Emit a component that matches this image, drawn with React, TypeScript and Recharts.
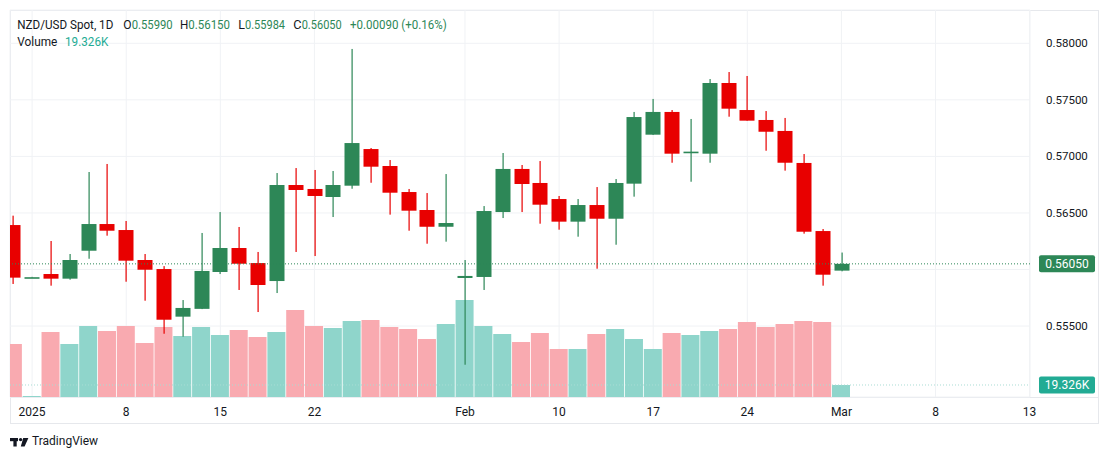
import React from "react";
import {
    ComposedChart,
    Bar,
    Cell,
    XAxis,
    YAxis,
    CartesianGrid,
    ReferenceLine,
} from "recharts";

// NZD/USD spot, daily bars, 31 Dec 2024 .. 3 Mar 2025
const dates = [
    "2024-12-31", "2025-01-01", "2025-01-02", "2025-01-03",
    "2025-01-06", "2025-01-07", "2025-01-08", "2025-01-09", "2025-01-10",
    "2025-01-13", "2025-01-14", "2025-01-15", "2025-01-16", "2025-01-17",
    "2025-01-20", "2025-01-21", "2025-01-22", "2025-01-23", "2025-01-24",
    "2025-01-27", "2025-01-28", "2025-01-29", "2025-01-30", "2025-01-31",
    "2025-02-03", "2025-02-04", "2025-02-05", "2025-02-06", "2025-02-07",
    "2025-02-10", "2025-02-11", "2025-02-12", "2025-02-13", "2025-02-14",
    "2025-02-17", "2025-02-18", "2025-02-19", "2025-02-20", "2025-02-21",
    "2025-02-24", "2025-02-25", "2025-02-26", "2025-02-27", "2025-02-28",
    "2025-03-03",
];

const opens = [
    0.56393, 0.5593, 0.5596, 0.55919,
    0.56166, 0.56402, 0.56349, 0.56084, 0.56004,
    0.55583, 0.55652, 0.55978, 0.5619, 0.56057,
    0.55898, 0.56747, 0.56712, 0.56641, 0.56741,
    0.57065, 0.56915, 0.56685, 0.56526, 0.56378,
    0.55925, 0.55934, 0.56508, 0.56889, 0.56765,
    0.56623, 0.56423, 0.5657, 0.56449, 0.56759,
    0.57192, 0.57393, 0.57036, 0.57024, 0.57649,
    0.5741, 0.57322, 0.57225, 0.56942, 0.5634,
    0.5599,
];

const highs = [
    0.56476, 0.55935, 0.56252, 0.56137,
    0.56862, 0.56933, 0.56429, 0.56137, 0.5603,
    0.5573, 0.56323, 0.56508, 0.56376, 0.56155,
    0.56853, 0.56897, 0.5688, 0.56871, 0.5795,
    0.57074, 0.56968, 0.56712, 0.56676, 0.56844,
    0.56084, 0.56561, 0.5703, 0.56924, 0.56959,
    0.5665, 0.56623, 0.56729, 0.568, 0.57393,
    0.57508, 0.5741, 0.57331, 0.57684, 0.57746,
    0.57711, 0.57401, 0.5734, 0.57021, 0.56358,
    0.5615,
];

const lows = [
    0.55872, 0.55928, 0.55857, 0.5591,
    0.56095, 0.56299, 0.55892, 0.55724, 0.55432,
    0.55406, 0.5565, 0.5596, 0.55819, 0.55624,
    0.55792, 0.56155, 0.56119, 0.56464, 0.56714,
    0.56767, 0.56485, 0.56343, 0.56228, 0.56246,
    0.55158, 0.55819, 0.56455, 0.56508, 0.56405,
    0.56352, 0.5629, 0.56007, 0.56219, 0.56644,
    0.5719, 0.56944, 0.56776, 0.56944, 0.57351,
    0.57316, 0.5705, 0.56874, 0.56317, 0.55857,
    0.55984,
];

const closes = [
    0.55928, 0.55932, 0.55919, 0.56084,
    0.56402, 0.56343, 0.56078, 0.55998, 0.55556,
    0.5566, 0.55987, 0.5619, 0.56051, 0.55863,
    0.56747, 0.56703, 0.5665, 0.56747, 0.57118,
    0.56909, 0.56679, 0.5652, 0.56378, 0.56411,
    0.55943, 0.56517, 0.56889, 0.56756, 0.56573,
    0.56423, 0.5657, 0.56449, 0.56765, 0.57348,
    0.57393, 0.57024, 0.57042, 0.57649, 0.57422,
    0.57316, 0.57218, 0.56944, 0.56334, 0.55954,
    0.5605,
];

// volume in thousands
const volumes = [
    85.4, 1.5, 104.7, 85.4,
    114.3, 106.3, 114.3, 86.9, 112.7,
    98.2, 112.7, 99.8, 107.9, 96.6,
    104.7, 140.1, 114.3, 111.1, 122.4,
    124.0, 112.7, 109.5, 93.4, 117.5,
    156.2, 114.3, 101.4, 88.6, 103.0,
    77.3, 77.3, 101.4, 109.5, 93.4,
    77.3, 103.0, 99.8, 106.3, 109.5,
    120.8, 112.7, 117.5, 122.4, 120.8,
    19.326,
];

const tickSlots = [1, 6, 11, 16, 24, 29, 34, 39, 44, 49, 54];
const tickLabels = ["2025", "8", "15", "22", "Feb", "10", "17", "24", "Mar", "8", "13"];
const priceTicks = [0.555, 0.56, 0.565, 0.57, 0.575, 0.58];

const lastPrice = 0.5605;
const lastVolume = 19.326;

const UP = "#2d8757";
const DOWN = "#e80000";
const VOL_UP = "#8fd5cb";
const VOL_DOWN = "#f9aab0";
const TEXT = "#131722";
const GRID = "#f0f2f5";
const FONT = "Roboto, 'Liberation Sans', sans-serif";

const rows = dates.map((d, i) => ({
    i,
    date: d,
    o: opens[i],
    h: highs[i],
    l: lows[i],
    c: closes[i],
    v: volumes[i],
}));

function Candle(props: any) {
    const { x, y, width, height, payload } = props;
    if (!payload || height == null) return null;
    const { o, h, l, c } = payload;
    const k = height / (h - l);
    const yOf = (v: number) => y + (h - v) * k;
    const top = yOf(Math.max(o, c));
    const bodyH = Math.max(yOf(Math.min(o, c)) - top, 1.6);
    const color = c >= o ? UP : DOWN;
    const cx = Math.round(x + width / 2);
    return (
        <g>
            <rect x={cx - 0.5} y={y} width={1.2} height={height} fill={color} />
            <rect x={cx - 7.5} y={top} width={15} height={bodyH} fill={color} />
        </g>
    );
}

function Tag({ viewBox, text, fill }: any) {
    if (!viewBox) return null;
    const { x, y, width } = viewBox;
    const left = x + width + 9;
    return (
        <g>
            <rect x={left} y={y - 8.5} width={56} height={17} rx={2} fill={fill} />
            <text
                x={left + 28}
                y={y}
                dy="0.36em"
                textAnchor="middle"
                fill="#fff"
                fontSize={12}
                fontFamily={FONT}
            >
                {text}
            </text>
        </g>
    );
}

function Header() {
    const t = (x: number, y: number, len: number, s: string, fill: string) => (
        <text
            x={x}
            y={y}
            textLength={len}
            lengthAdjust="spacingAndGlyphs"
            fill={fill}
            fontSize={12.5}
            fontFamily={FONT}
        >
            {s}
        </text>
    );
    return (
        <svg width={460} height={52} style={{ position: "absolute", left: 0, top: 0 }}>
            {t(17.3, 29.3, 96, "NZD/USD Spot, 1D", TEXT)}
            {t(123.3, 29.3, 8.3, "O", TEXT)}
            {t(131.7, 29.3, 41, "0.55990", UP)}
            {t(180, 29.3, 8.3, "H", TEXT)}
            {t(188.3, 29.3, 41.7, "0.56150", UP)}
            {t(238.3, 29.3, 6.7, "L", TEXT)}
            {t(245, 29.3, 40, "0.55984", UP)}
            {t(293.3, 29.3, 8.3, "C", TEXT)}
            {t(301.7, 29.3, 40, "0.56050", UP)}
            {t(350, 29.3, 96.7, "+0.00090 (+0.16%)", UP)}
            {t(17.3, 46, 40, "Volume", TEXT)}
            {t(65, 46, 43.3, "19.326K", "#22ab94")}
        </svg>
    );
}

function Logo() {
    return (
        <div style={{ position: "absolute", left: 10, top: 434, display: "flex", alignItems: "center" }}>
            <svg width={20} height={12}>
                <rect x={0} y={3} width={8} height={3.2} fill={TEXT} />
                <rect x={3.4} y={3} width={3.3} height={8.5} fill={TEXT} />
                <circle cx={10.6} cy={4.6} r={1.7} fill={TEXT} />
                <polygon points="13.2,3 18.4,3 14.6,11.5 10.8,11.5" fill={TEXT} />
            </svg>
            <span style={{ fontFamily: FONT, fontSize: 12, color: TEXT, marginLeft: 2 }}>TradingView</span>
        </div>
    );
}

export default function App() {
    return (
        <div
            style={{
                position: "fixed",
                left: 0,
                top: 0,
                width: 1109,
                height: 460,
                background: "#fff",
                fontFamily: FONT,
            }}
        >
            <div
                style={{
                    position: "absolute",
                    left: 10,
                    top: 10,
                    width: 1087,
                    height: 412,
                    border: "1px solid #e6e8ec",
                }}
            />
            <div style={{ position: "absolute", left: 10, top: 397, width: 1088, height: 1, background: "#e6e8ec" }} />
            <div style={{ position: "absolute", left: 0, top: 0 }}>
                <ComposedChart
                    width={1100}
                    height={425}
                    data={rows}
                    margin={{ top: 10, right: 0, left: 10, bottom: 0 }}
                >
                    <CartesianGrid stroke={GRID} />
                    <XAxis
                        type="number"
                        dataKey="i"
                        domain={[-0.175, 54.02]}
                        allowDataOverflow
                        ticks={tickSlots}
                        interval={0}
                        tickFormatter={(v: number) => tickLabels[tickSlots.indexOf(v)] ?? ""}
                        axisLine={false}
                        tickLine={false}
                        tickSize={0}
                        tickMargin={10}
                        height={28}
                        tick={{ fontSize: 12, fill: TEXT, fontFamily: FONT }}
                    />
                    <XAxis
                        xAxisId="vol"
                        type="number"
                        dataKey="i"
                        domain={[-0.175, 54.02]}
                        allowDataOverflow
                        hide
                    />
                    <YAxis
                        orientation="right"
                        domain={[0.548727, 0.582944]}
                        allowDataOverflow
                        ticks={priceTicks}
                        interval={0}
                        // the 0.56000 label sits under the last-price tag
                        tickFormatter={(v: number) => (Math.abs(v - lastPrice) < 0.001 ? "" : v.toFixed(5))}
                        axisLine={false}
                        tickLine={false}
                        tickSize={0}
                        tickMargin={16}
                        width={70}
                        tick={{ fontSize: 11.5, fill: TEXT, fontFamily: FONT, textAnchor: "start" }}
                    />
                    <YAxis yAxisId="vol" domain={[0, 623]} hide />
                    <Bar
                        xAxisId="vol"
                        yAxisId="vol"
                        dataKey="v"
                        barSize={18}
                        isAnimationActive={false}
                    >
                        {rows.map((r) => (
                            <Cell key={r.date} fill={r.c >= r.o ? VOL_UP : VOL_DOWN} />
                        ))}
                    </Bar>
                    <Bar
                        dataKey={(r: any) => [r.l, r.h]}
                        barSize={15}
                        shape={<Candle />}
                        isAnimationActive={false}
                    />
                    <ReferenceLine
                        xAxisId="vol"
                        yAxisId="vol"
                        y={lastVolume}
                        stroke="#a9dcd4"
                        strokeDasharray="1 2"
                        label={<Tag text="19.326K" fill="#22ab94" />}
                    />
                    <ReferenceLine
                        y={lastPrice}
                        stroke={UP}
                        strokeDasharray="1 2"
                        label={<Tag text={lastPrice.toFixed(5)} fill={UP} />}
                    />
                </ComposedChart>
            </div>
            <Header />
            <Logo />
        </div>
    );
}
